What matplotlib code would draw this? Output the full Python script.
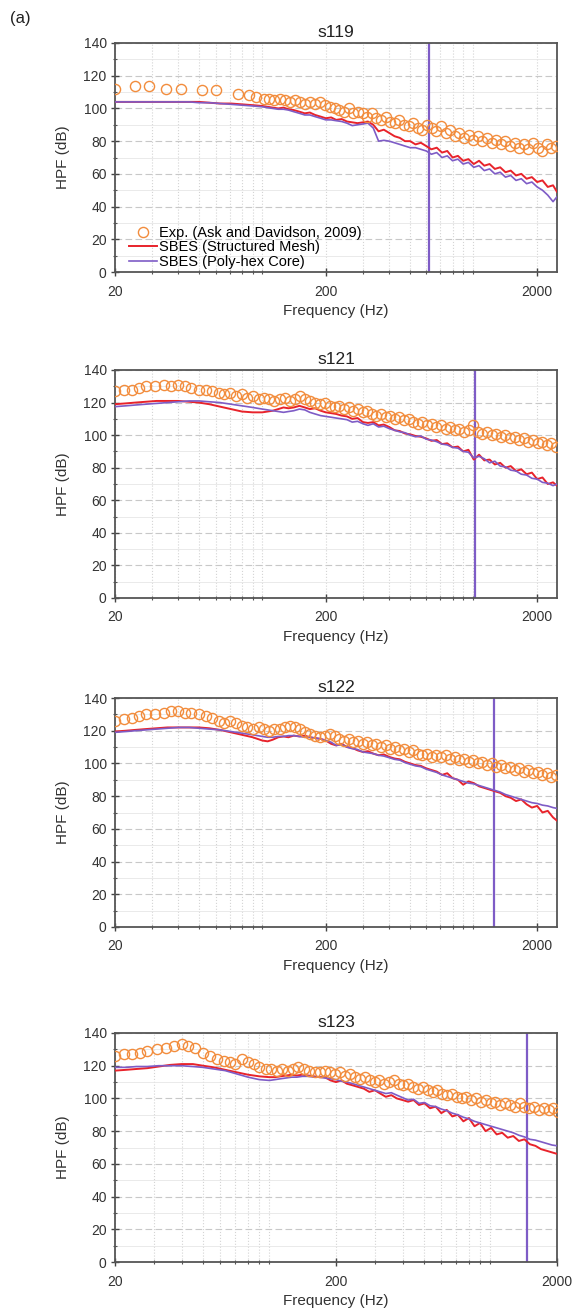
import numpy as np
import matplotlib
matplotlib.use("Agg")
import matplotlib.pyplot as plt
from matplotlib.ticker import FixedLocator, LogLocator, MultipleLocator, NullFormatter

plt.rcParams['font.family'] = ['Liberation Sans', 'DejaVu Sans']

# --- frequency grids (Hz) ---
f_sim = [20, 22.5, 25, 28, 31.5, 35.5, 40, 45, 50, 56, 63, 71, 80, 90, 100,
         106, 112, 119, 126, 133, 141, 150, 159, 168, 178,
         189, 200, 212, 224, 238, 252, 267, 283, 300, 317,
         336, 356, 377, 400, 424, 449, 475, 503, 533, 565,
         599, 634, 672, 712, 754, 799, 847, 897, 950, 1007,
         1067, 1130, 1197, 1268, 1344, 1424, 1508, 1598, 1693, 1794,
         1900, 2013, 2133, 2260, 2394, 2500]

f_exp1_lo = [20, 25, 29, 35, 41, 52, 60, 77, 86, 93]
f_exp_lo = [20, 22, 24, 26, 28, 31, 34, 37, 40, 43, 46, 50, 54, 58, 62, 66,
            70, 75, 80, 85, 90, 96]
f_exp_hi = [102, 108, 114, 121, 128, 135, 143, 151, 160, 169,
            178, 188, 198, 209, 220, 232, 244, 257, 270, 284,
            299, 314, 330, 347, 365, 384, 404, 425, 447, 470,
            494, 520, 547, 575, 605, 636, 669, 704, 740, 778,
            818, 860, 905, 952, 1001, 1053, 1107, 1164, 1224, 1287,
            1354, 1424, 1497, 1574, 1655, 1741, 1831, 1925, 2024, 2129,
            2239, 2354, 2475]

# --- s119 ---
s119_exp = [112, 114, 114, 112, 112, 111, 111, 109, 108, 107,
            106, 106, 105, 106, 105, 104, 105, 104, 103, 104,
            103, 104, 102, 101, 100, 99, 98, 100, 97, 98,
            97, 95, 97, 94, 93, 95, 92, 91, 93, 90,
            89, 91, 88, 87, 90, 88, 86, 89, 85, 87,
            83, 85, 82, 84, 81, 83, 80, 82, 79, 81,
            78, 80, 77, 79, 76, 78, 75, 79, 76, 74,
            78, 76, 77]
s119_struct = [104, 104, 104, 104, 104, 104, 104, 104, 104, 103.5, 103, 103, 102.5, 102, 101.5,
               101, 100.5, 100, 100.5, 99.5, 99, 98, 97, 97.5, 96,
               95, 94, 94.5, 93, 93.5, 92, 91.5, 91, 91.5, 92,
               90, 86, 87, 85, 83, 82, 80, 80, 78, 79,
               77, 75, 76, 73, 74, 70, 71, 68, 69, 66,
               68, 65, 66, 63, 64, 61, 62, 59, 60, 57,
               58, 55, 56, 52, 53, 49]
s119_poly = [104, 104, 104, 104, 104, 104, 104, 104, 103.5, 103.5, 103, 102.5, 102, 101.5, 101,
             100.5, 100, 99.5, 99.5, 99, 98, 97, 96, 96, 95,
             94, 93, 93, 92.5, 92, 91, 89.5, 90, 90.5, 91,
             88, 80, 80.5, 80, 79, 78, 77, 76, 76, 75,
             74, 72, 73, 70, 71, 68, 69, 66, 67, 64,
             65, 62, 63, 60, 61, 58, 59, 56, 57, 54,
             55, 52, 50, 47, 43, 46]

# --- s121 ---
s121_exp = [127, 128, 128, 129, 130, 130, 131, 130, 131, 130, 129, 128, 128, 127, 126, 125,
            126, 124, 125, 123, 124, 122,
            123, 122, 121, 122, 123, 121, 122, 124, 122, 121,
            120, 119, 120, 118, 117, 118, 116, 117, 115, 116,
            114, 115, 113, 112, 113, 111, 112, 110, 111, 109,
            110, 108, 107, 108, 106, 107, 105, 106, 104, 105,
            103, 104, 102, 103, 106, 102, 101, 102, 100, 101,
            99, 100, 98, 99, 97, 98, 96, 97, 95, 96,
            94, 95, 93]
s121_struct = [119, 119.5, 120, 120.5, 121, 121, 121, 120.5, 120, 119, 117.5, 116, 114.5, 114, 114,
               114.5, 115, 116, 117, 116.5, 117, 118, 117, 116, 116.5,
               115, 114, 113.5, 113, 112, 111.5, 110, 110.5, 108, 107.5,
               108, 106, 106.5, 105, 103, 102.5, 101, 100.5, 99.5, 99,
               98, 96.5, 97, 94.5, 95, 92.5, 93, 90, 91, 85,
               88, 84.5, 85, 82, 83, 80, 81, 78, 79, 76,
               77, 73, 74, 70, 71, 69]
s121_poly = [117.5, 118, 118.5, 119, 119.5, 120, 120.5, 121, 121, 120.5, 120, 119, 118, 117, 116,
             115.5, 115, 114.5, 114, 114.5, 115, 116, 115.5, 114, 113,
             112, 111.5, 111, 110.5, 110, 109.5, 108, 108.5, 107, 106,
             107, 105, 105.5, 104, 103, 102, 101.5, 100, 99, 99.5,
             97.5, 97, 96, 94.5, 94, 92.5, 92, 90, 89.5, 86,
             87, 85.5, 83, 84, 81, 80.5, 78.5, 78, 76, 75.5,
             73.5, 73, 71, 70.5, 69, 70]

# --- s122 ---
s122_exp = [126, 127, 128, 129, 130, 130, 131, 132, 132, 131, 131, 130, 129, 128, 126, 125,
            126, 125, 123, 122, 121, 122,
            121, 120, 121, 121, 122, 123, 122, 121, 119, 118,
            117, 116, 117, 118, 117, 115, 114, 115, 113, 114,
            112, 113, 111, 112, 110, 111, 109, 110, 108, 109,
            107, 108, 106, 105, 106, 104, 105, 104, 105, 103,
            104, 102, 103, 101, 102, 100, 101, 99, 100, 98,
            99, 97, 98, 96, 97, 95, 96, 94, 95, 93,
            94, 92, 93]
s122_struct = [119.5, 120, 120.5, 121, 121.5, 122, 122, 122, 122, 121.5, 120.5, 119, 117.5, 116, 114,
               113.5, 114.5, 116, 116.5, 116, 117, 116.5, 117, 116, 115.5,
               115, 114, 112, 111, 112, 110, 109.5, 108, 107, 107.5,
               106, 105, 105.5, 104, 103, 102.5, 101, 100, 99, 98.5,
               97, 96, 95, 93, 94, 91, 90, 87, 89, 88,
               86, 85, 84, 83, 82, 80, 79, 77, 78, 75,
               73, 74, 70, 71, 67, 65]
s122_poly = [119, 119.5, 120, 120.5, 121, 121.5, 122, 122, 121.5, 121, 120.5, 119.5, 118.5, 117.5, 116.5,
             116, 116, 116.5, 116.5, 117, 117, 116.5, 116, 116, 115.5,
             115, 114, 113, 111, 111.5, 110, 109, 108.5, 107, 106.5,
             106, 105, 104.5, 103.5, 102.5, 102, 100.5, 99.5, 98.5, 98,
             96.5, 95.5, 94.5, 93, 92, 91, 90, 89, 88, 87.5,
             86.5, 85.5, 84.5, 83.5, 82.5, 81, 80, 79, 78, 77,
             76, 75.5, 74.5, 74, 73, 72.5]

# --- s123 ---
s123_exp = [126, 127, 127, 128, 129, 130, 131, 132, 133, 132, 131, 128, 126, 124, 123, 122,
            121, 124, 122, 121, 119, 118,
            118, 117, 118, 117, 118, 119, 118, 117, 116, 116,
            117, 116, 115, 116, 114, 115, 113, 112, 113, 111,
            110, 111, 109, 110, 111, 109, 108, 109, 107, 106,
            107, 105, 104, 105, 103, 102, 103, 101, 100, 101,
            99, 100, 98, 99, 97, 98, 96, 97, 96, 95,
            97, 95, 94, 95, 93, 94, 93, 94, 92, 91,
            92, 91, 91]
s123_struct = [117, 117.5, 118, 118.5, 119.5, 120.5, 121, 121, 120, 119, 117.5, 116, 114.5, 113.5, 113,
               113, 113.5, 114, 114.5, 114, 114.5, 114, 113.5, 113, 113,
               111, 110, 111, 109, 108, 107, 106, 104, 105, 103,
               101, 102, 100, 99, 98, 99, 96, 97, 94, 95,
               91, 93, 89, 90, 86, 88, 83, 85, 80, 82,
               78, 79, 76, 77, 74, 75, 72, 71, 69, 68,
               67, 66, 64, 63, 62, 61]
s123_poly = [119, 119, 119.5, 119.5, 120, 120, 120, 119.5, 119, 118, 117, 115, 113, 111.5, 111,
             111.5, 112, 112.5, 113, 113, 113.5, 113.5, 113, 113, 112.5,
             112, 111.5, 110.5, 110, 109, 108, 107, 106, 105, 104,
             103, 103.5, 102, 100.5, 99, 99.5, 97, 97.5, 95.5, 95,
             93.5, 92.5, 91, 90, 88.5, 87.5, 86, 85, 84, 83,
             82, 81, 80, 79, 77.5, 76.5, 75, 74.5, 73.5, 72.5,
             71.5, 71, 70, 69, 68, 67]

titles = ['s119', 's121', 's122', 's123']
exp_freqs = [f_exp1_lo + f_exp_hi, f_exp_lo + f_exp_hi, f_exp_lo + f_exp_hi, f_exp_lo + f_exp_hi]
exp_vals = [s119_exp, s121_exp, s122_exp, s123_exp]
struct_vals = [s119_struct, s121_struct, s122_struct, s123_struct]
poly_vals = [s119_poly, s121_poly, s122_poly, s123_poly]
probe_freq = [615, 1025, 1250, 1460]   # vertical marker lines
x_max = [2500, 2500, 2500, 2000]

EXP_C = '#F28C3C'
RED_C = '#E8232B'
PUR_C = '#7E5CC6'

W, H = 574, 1314
# axes box in pixels (top, bottom)
boxes = [(43, 272), (370, 598), (698, 927), (1033, 1262)]

fig = plt.figure(figsize=(W / 100, H / 100), dpi=100)
fig.text(10 / W, 1 - 18 / H, '(a)', fontsize=12, va='center', ha='left', color='#222')

for i in range(4):
    top, bot = boxes[i]
    ax = fig.add_axes([115 / W, 1 - bot / H, 442 / W, (bot - top) / H])
    ax.set_xscale('log')

    ax.axvline(probe_freq[i], color=PUR_C, lw=1.6, zorder=2)
    l1, = ax.plot(f_sim, struct_vals[i], color=RED_C, lw=1.4, zorder=3)
    l2, = ax.plot(f_sim, poly_vals[i], color=PUR_C, lw=1.2, zorder=3)
    l0, = ax.plot(exp_freqs[i], exp_vals[i], 'o', mfc='none', mec=EXP_C,
                  ms=7.3, mew=1.0, zorder=4)

    ax.set_xlim(20, x_max[i])
    ax.set_ylim(0, 140)
    ax.xaxis.set_major_locator(FixedLocator([20, 200, 2000]))
    ax.set_xticklabels(['20', '200', '2000'])
    ax.xaxis.set_minor_locator(LogLocator(base=10, subs=np.arange(1, 10), numticks=20))
    ax.xaxis.set_minor_formatter(NullFormatter())
    ax.yaxis.set_major_locator(MultipleLocator(20))
    ax.yaxis.set_minor_locator(MultipleLocator(10))

    ax.grid(True, which='major', axis='y', color='#c8c8c8', ls=(0, (6, 3)), lw=0.8)
    ax.grid(True, which='minor', axis='y', color='#e6e6e6', lw=0.6)
    ax.grid(True, which='both', axis='x', color='#d4d4d4', ls=':', lw=0.8)
    ax.set_axisbelow(True)

    for s in ax.spines.values():
        s.set_color('#555555')
        s.set_linewidth(1.3)
    ax.tick_params(which='major', direction='inout', length=6, width=1,
                   color='#444444', labelsize=10, labelcolor='#333333', pad=3)
    ax.tick_params(axis='x', which='major', pad=6)
    ax.tick_params(which='minor', direction='inout', length=3, width=0.8,
                   color='#555555')

    ax.set_title(titles[i], fontsize=12.5, pad=4, color='#222')
    ax.set_xlabel('Frequency (Hz)', fontsize=11, labelpad=4, color='#333')
    ax.set_ylabel('HPF (dB)', fontsize=11, labelpad=10, color='#333')

    if i == 0:
        ax.legend([l0, l1, l2],
                  ['Exp. (Ask and Davidson, 2009)', 'SBES (Structured Mesh)',
                   'SBES (Poly-hex Core)'],
                  loc='lower left', bbox_to_anchor=(0.025, 0.0), frameon=False,
                  fontsize=10.5, handlelength=1.9, handletextpad=0.15,
                  labelspacing=0.05, borderpad=0.2, borderaxespad=0.0)

plt.savefig('out.png', dpi=100)
